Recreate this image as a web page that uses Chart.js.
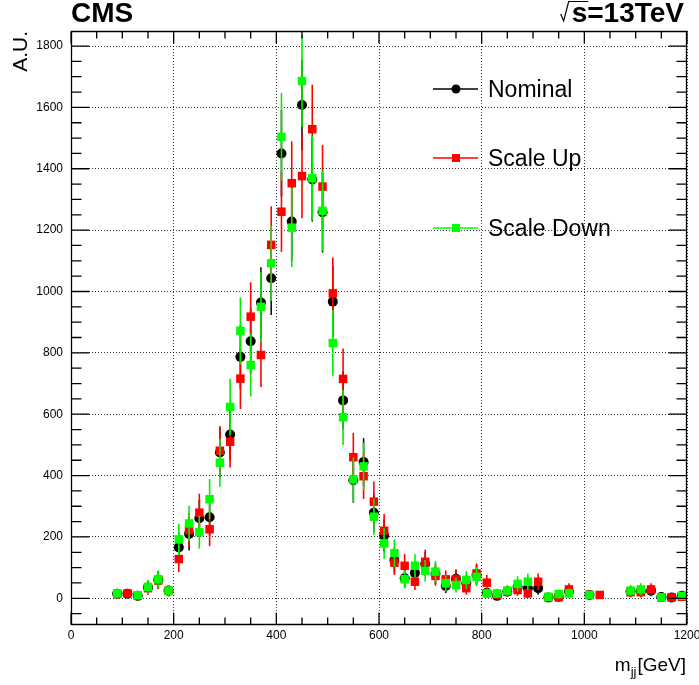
<!DOCTYPE html>
<html>
<head>
<meta charset="utf-8">
<script src="https://cdn.jsdelivr.net/npm/chart.js@4.4.1/dist/chart.umd.min.js"></script>
<style>
  html, body { margin: 0; padding: 0; background: #fff; }
  canvas { display: block; }
</style>
</head>
<body>
<canvas id="c" width="699" height="685"></canvas>
<script>
// Dijet invariant mass bins (bin centres, GeV)
const massBins = [90,110,130,150,170,190,210,230,250,270,290,310,330,350,370,390,
  410,430,450,470,490,510,530,550,570,590,610,630,650,670,690,710,730,750,770,790,
  810,830,850,870,890,910,930,950,970,990,1010,1030,1050,1070,1090,1110,1130,1150,1170,1190];

// Bin contents (arbitrary units); null = empty bin
const nominal = [15,15,8,35,60,25,
  166,210,261,264,475,534,787,838,964,1043,
  1450,1228,1608,1365,1258,967,645,385,444,279,
  205,125,65,83,112,80,40,64,49,76,
  18,8,22,36,33,33,3,5,22,null,
  11,null,null,null,22,22,25,4,3,8];
const scaleUp = [14,16,9,33,58,24,
  128,222,279,225,481,510,716,918,793,1152,
  1260,1353,1376,1529,1342,994,715,460,398,315,
  220,116,106,54,119,73,62,62,33,81,
  51,12,22,27,16,54,3,3,29,null,
  11,11,null,null,20,20,29,3,3,5];
const scaleDown = [16,null,10,37,62,25,
  192,244,216,323,442,624,872,760,950,1092,
  1504,1208,1686,1369,1263,832,590,387,430,266,
  179,147,62,106,90,87,49,43,60,70,
  16,16,25,47,54,null,5,14,16,null,
  11,null,null,null,25,29,null,3,null,8];

// Statistical uncertainties per bin
const nominalErr = [14,14,10,22,29,18,
  48,54,60,60,81,85,104,107,115,120,
  141,130,148,137,131,115,94,73,78,62,
  53,41,30,34,39,33,23,30,26,32,
  16,10,17,22,21,21,6,8,17,null,
  12,null,null,null,17,17,18,7,6,10];
const scaleUpErr = [14,15,11,21,28,18,
  42,55,62,55,81,84,99,112,104,126,
  131,136,137,145,136,117,99,79,74,66,
  55,40,38,27,40,32,29,29,21,33,
  26,13,17,19,15,27,6,6,20,null,
  12,12,null,null,17,17,20,6,6,8];
const scaleDownErr = [15,null,12,23,29,18,
  51,58,54,66,78,92,109,102,114,122,
  143,129,150,137,131,107,90,73,77,60,
  50,45,29,38,35,35,26,24,29,31,
  15,15,18,25,27,null,8,14,15,null,
  12,null,null,null,18,20,null,6,null,10];

// Axis tick labels
const xTickLabels = [0,200,400,600,800,1000,1200];
const yTickLabels = [0,200,400,600,800,1000,1200,1400,1600,1800];

const FONT = "'Liberation Sans', Arial, Helvetica, sans-serif";

function points(values) {
  return massBins.map((m, i) => ({ x: m, y: values[i] }));
}

// Vertical error bars, drawn just before each dataset's markers
const errorBars = {
  id: 'errorBars',
  beforeDatasetDraw(chart, args) {
    const ds = chart.data.datasets[args.index];
    if (!ds.errors) return;
    const { ctx, chartArea: a, scales: { x, y } } = chart;
    ctx.save();
    ctx.setLineDash([]);
    ctx.beginPath();
    ctx.rect(a.left, a.top, a.right - a.left, a.bottom - a.top);
    ctx.clip();
    ctx.strokeStyle = ds.barColor;
    ctx.lineWidth = 1.6;
    ds.data.forEach((p, i) => {
      const e = ds.errors[i];
      if (p.y == null || e == null) return;
      const px = x.getPixelForValue(p.x);
      ctx.beginPath();
      ctx.moveTo(px, y.getPixelForValue(p.y + e));
      ctx.lineTo(px, y.getPixelForValue(p.y - e));
      ctx.stroke();
    });
    ctx.restore();
  }
};

// Frame with inward major/minor tick marks on all four sides
function drawFrame(chart) {
  const ctx = chart.ctx;
  const a = chart.chartArea;
  const xs = chart.scales.x;
  const ys = chart.scales.y;
  ctx.save();
  ctx.setLineDash([]);
  ctx.strokeStyle = '#000000';
  ctx.lineWidth = 1.3;
  const L = a.left + 0.5, R = a.right - 0.5;
  const T = a.top + 0.5, B = a.bottom - 0.5;
  ctx.beginPath();
  ctx.moveTo(L, T); ctx.lineTo(R, T); ctx.lineTo(R, B); ctx.lineTo(L, B); ctx.closePath();
  for (let v = 0; v <= 1200; v += 50) {
    const px = xs.getPixelForValue(v);
    const len = (v % 200 === 0) ? 12 : 7;
    ctx.moveTo(px, B); ctx.lineTo(px, B - len);
    ctx.moveTo(px, T); ctx.lineTo(px, T + len);
  }
  for (let v = -50; v <= 1800; v += 50) {
    const py = ys.getPixelForValue(v);
    const len = (v % 200 === 0) ? 18 : 10;
    ctx.moveTo(L, py); ctx.lineTo(L + len, py);
    ctx.moveTo(R, py); ctx.lineTo(R - len, py);
  }
  ctx.stroke();
  ctx.restore();
}

// Labels, axis titles, frame and legend
const annotations = {
  id: 'cmsLabels',
  afterDraw(chart) {
    drawFrame(chart);
    const { ctx } = chart;
    ctx.save();
    ctx.setLineDash([]);
    ctx.fillStyle = '#000';
    ctx.strokeStyle = '#000';

    // CMS label
    ctx.font = `bold 28px ${FONT}`;
    ctx.textAlign = 'left';
    ctx.textBaseline = 'alphabetic';
    ctx.fillText('CMS', 71, 22);

    // sqrt(s) label
    const txt = 's=13TeV';
    const w = ctx.measureText(txt).width;
    const sw = ctx.measureText('s').width;
    const x0 = 684 - w;
    ctx.fillText(txt, x0, 22);
    ctx.lineWidth = 1.2;
    ctx.beginPath();
    ctx.moveTo(x0 - 11, 14);
    ctx.lineTo(x0 - 8, 21);
    ctx.lineTo(x0 - 3, 1.5);
    ctx.lineTo(x0 + sw + 1, 1.5);
    ctx.stroke();

    // y-axis title
    ctx.save();
    ctx.translate(27, 31);
    ctx.rotate(-Math.PI / 2);
    ctx.font = `21px ${FONT}`;
    ctx.textAlign = 'right';
    ctx.fillText('A.U.', 0, 0);
    ctx.restore();

    // x-axis title m_jj [GeV]
    ctx.font = `19px ${FONT}`;
    const wm = ctx.measureText('m').width;
    const wg = ctx.measureText('[GeV]').width;
    ctx.font = `13px ${FONT}`;
    const wj = ctx.measureText('jj').width;
    let xt = 686 - (wm + wj + wg + 1);
    ctx.font = `19px ${FONT}`;
    ctx.fillText('m', xt, 671);
    xt += wm;
    ctx.font = `13px ${FONT}`;
    ctx.fillText('jj', xt, 676);
    xt += wj + 1;
    ctx.font = `19px ${FONT}`;
    ctx.fillText('[GeV]', xt, 671);

    // Legend
    const entries = [
      { label: 'Nominal', color: '#000000', style: 'circle', y: 89 },
      { label: 'Scale Up', color: '#ff0000', style: 'rect', y: 158 },
      { label: 'Scale Down', color: '#00ff00', style: 'rect', y: 228 }
    ];
    entries.forEach(e => {
      ctx.strokeStyle = e.color;
      ctx.fillStyle = e.color;
      ctx.lineWidth = 1.3;
      ctx.beginPath();
      ctx.moveTo(433, e.y);
      ctx.lineTo(478, e.y);
      ctx.stroke();
      ctx.beginPath();
      if (e.style === 'circle') ctx.arc(456, e.y, 4.5, 0, Math.PI * 2);
      else ctx.rect(452, e.y - 4, 8, 8);
      ctx.fill();
      ctx.fillStyle = '#000';
      ctx.font = `23px ${FONT}`;
      ctx.fillText(e.label, 488, e.y + 8);
    });
    ctx.restore();
  }
};

new Chart(document.getElementById('c'), {
  type: 'scatter',
  data: {
    datasets: [
      {
        label: 'Nominal', data: points(nominal), errors: nominalErr, barColor: '#111',
        pointStyle: 'circle', pointRadius: 5, backgroundColor: '#000', borderWidth: 0, order: 3
      },
      {
        label: 'Scale Up', data: points(scaleUp), errors: scaleUpErr, barColor: '#ff0000',
        pointStyle: 'rect', pointRadius: 6, backgroundColor: '#ff0000', borderWidth: 0, order: 2
      },
      {
        label: 'Scale Down', data: points(scaleDown), errors: scaleDownErr, barColor: '#00ee00',
        pointStyle: 'rect', pointRadius: 6, backgroundColor: '#00ff00', borderWidth: 0, order: 1
      }
    ]
  },
  options: {
    responsive: false,
    animation: false,
    events: [],
    layout: { padding: { top: 31, right: 12, left: 0, bottom: 0 } },
    plugins: { legend: { display: false }, tooltip: { enabled: false } },
    scales: {
      x: {
        type: 'linear', min: 0, max: 1200,
        afterBuildTicks: s => { s.ticks = xTickLabels.map(v => ({ value: v })); },
        afterFit: s => { s.height = 60; s.paddingLeft = 0; s.paddingRight = 0; },
        grid: { color: 'rgba(0,0,0,0.8)', lineWidth: 1, drawTicks: false },
        border: { display: false, dash: [1, 2] },
        ticks: {
          font: { family: FONT, size: 12 }, color: '#000', padding: 3, maxRotation: 0,
          autoSkip: false, callback: v => String(v)
        }
      },
      y: {
        type: 'linear', min: -87, max: 1849,
        afterBuildTicks: s => { s.ticks = yTickLabels.map(v => ({ value: v })); },
        afterFit: s => { s.width = 71; s.paddingTop = 0; s.paddingBottom = 0; },
        grid: { color: 'rgba(0,0,0,0.8)', lineWidth: 1, drawTicks: false },
        border: { display: false, dash: [1, 2] },
        ticks: {
          font: { family: FONT, size: 12 }, color: '#000', padding: 8,
          autoSkip: false, callback: v => String(v)
        }
      }
    }
  },
  plugins: [errorBars, annotations]
});
</script>
</body>
</html>
